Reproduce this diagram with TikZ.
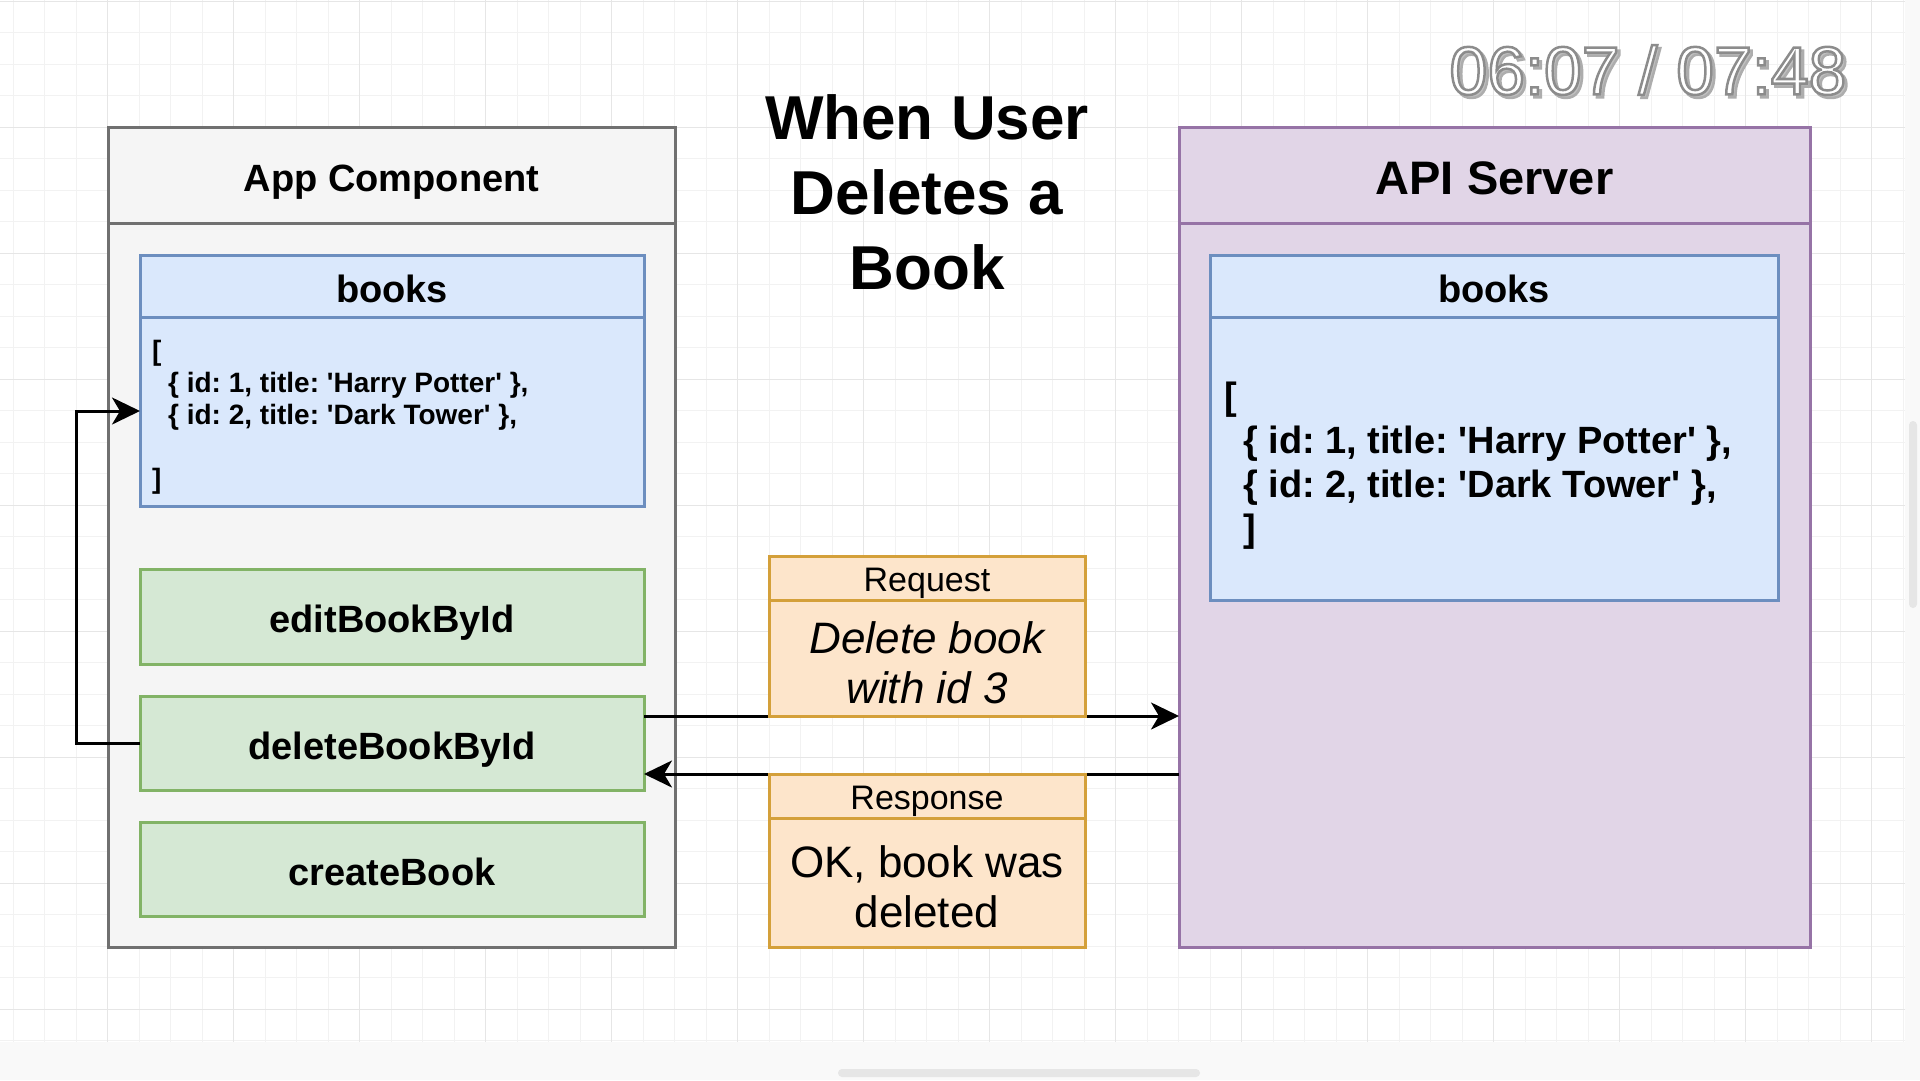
\documentclass[tikz,border=0pt]{standalone}
\usepackage{fontspec}
\setmainfont{Liberation Sans}
\usetikzlibrary{positioning,arrows.meta}
\frenchspacing

\definecolor{appfill}{HTML}{F5F5F5}
\definecolor{appline}{HTML}{707070}
\definecolor{bluefill}{HTML}{DAE8FC}
\definecolor{blueline}{HTML}{6C8EBF}
\definecolor{greenfill}{HTML}{D5E8D4}
\definecolor{greenline}{HTML}{82B366}
\definecolor{orangefill}{HTML}{FDE5CB}
\definecolor{orangeline}{HTML}{D4A03A}
\definecolor{purplefill}{HTML}{E1D5E7}
\definecolor{purpleline}{HTML}{9673A6}
\definecolor{gridminor}{HTML}{F2F2F2}
\definecolor{gridmajor}{HTML}{E6E6E6}
\definecolor{stampshadow}{HTML}{C0C0C0}

\newcommand{\qt}{\textquotesingle}
% outlined text for the time stamp (fill = text colour, stroke gray #1)
\newcommand{\outlined}[2]{\special{pdf:literal direct 2 Tr 2.5 w #1 G}#2\special{pdf:literal direct 0 Tr 1 w}}

\tikzset{
    panel/.style={draw=#1line, fill=#1fill, line width=3pt, outer sep=0pt, inner sep=0pt},
    heading/.style={font=\fontsize{38}{44}\selectfont\bfseries, text height=36pt, text depth=3.4pt},
    label/.style={font=\fontsize{34}{40}\selectfont, text height=30.6pt, text depth=2.7pt},
    code/.style={align=left, inner sep=0pt, font=\fontsize{28}{32}\selectfont\bfseries},
    bigcode/.style={align=left, inner sep=0pt, font=\fontsize{38}{44}\selectfont\bfseries},
    link/.style={line width=3pt, -{Stealth[length=28pt,width=27pt,inset=8pt]}},
    stamp/.style={inner sep=0pt, font=\fontsize{68}{70}\selectfont}
}

\begin{document}
\begin{tikzpicture}[x=1pt,y=-1pt]
    \useasboundingbox (0,0) rectangle (1920,1080);
    % Background grid of the editor.
        \fill[white] (0,0) rectangle (1920,1080);
        \foreach \i in {0,...,60}
            \draw[gridminor, line width=1pt] (13+31.5*\i,0) -- (13+31.5*\i,1042);
        \foreach \k in {0,...,33}
            \draw[gridminor, line width=1pt] (0,1+31.5*\k) -- (1905,1+31.5*\k);
        \foreach \i in {3,7,...,59}
            \draw[gridmajor, line width=1pt] (13+31.5*\i,0) -- (13+31.5*\i,1042);
        \foreach \k in {0,4,...,32}
            \draw[gridmajor, line width=1pt] (0,1+31.5*\k) -- (1905,1+31.5*\k);
        \fill[gridminor!50] (1905,0) rectangle (1920,1080);
        \fill[gridminor!50] (0,1042) rectangle (1905,1080);
        \fill[gridmajor, rounded corners=4pt] (1909,421) rectangle (1917,608);
        \fill[gridmajor, rounded corners=4pt] (838,1069) rectangle (1200,1077);

    % Title in the middle.
        \node[align=center, font=\fontsize{62}{75}\selectfont\bfseries] (title) at (927,192) {When User\\Deletes a\\Book};

    % Left side: the App component.
        \node[panel=app, minimum width=567, minimum height=96, heading] (apphead) at (391.5,175) {App Component};
        \node[panel=app, minimum width=567, minimum height=724, below=0pt of apphead] (app) {};
        \node[panel=blue, minimum width=504, minimum height=62, heading] (lbookshead) at (392,286) {books};
        \node[panel=blue, minimum width=504, minimum height=189, below=0pt of lbookshead] (lbooks) {};
        \node[code, anchor=west] (lcode) at (152,417.5) {[\\
            \hspace*{16pt}\{ id: 1, title: \qt Harry Potter\qt\ \},\\
            \hspace*{16pt}\{ id: 2, title: \qt Dark Tower\qt\ \},\\[32pt]
            ]};
        \node[panel=green, minimum width=504, minimum height=95, heading] (editbtn) at (392,616.5) {editBookById};
        \node[panel=green, minimum width=504, minimum height=94, heading, below=32pt of editbtn] (deletebtn) {deleteBookById};
        \node[panel=green, minimum width=504, minimum height=94, heading, below=32pt of deletebtn] (createbtn) {createBook};

    % Right side: the API server.
        \node[panel=purple, minimum width=631, minimum height=96, font=\fontsize{47}{54}\selectfont\bfseries, text height=47.6pt, text depth=8.5pt] (apihead) at (1494.5,175) {API Server};
        \node[panel=purple, minimum width=631, minimum height=724, below=0pt of apihead] (api) {};
        \node[panel=blue, minimum width=568, minimum height=62, heading] (rbookshead) at (1494,286) {books};
        \node[panel=blue, minimum width=568, minimum height=283, below=0pt of rbookshead] (rbooks) {};
        \node[bigcode, anchor=west] (rcode) at (1224,466) {[\\
            \hspace*{19pt}\{ id: 1, title: \qt Harry Potter\qt\ \},\\
            \hspace*{19pt}\{ id: 2, title: \qt Dark Tower\qt\ \},\\
            \hspace*{19pt}]};

    % Connectors between the two sides.
        \coordinate (reqline) at (927,716);
        \coordinate (respline) at (927,774);
        \coordinate (loopcorner) at (76,411);
        \draw[link] (deletebtn.east |- reqline) -- (api.west |- reqline);
        \draw[link] (api.west |- respline) -- (deletebtn.east |- respline);
        \draw[link] (deletebtn.west) -| (loopcorner) -- (loopcorner -| lbooks.west);

    % Request and response boxes sit on the lines.
        \node[panel=orange, minimum width=316, minimum height=116, anchor=south] (reqbody) at (reqline) {};
        \node[align=center, font=\fontsize{44}{50}\selectfont\itshape] (reqtext) at ([yshift=-5pt]reqbody.center) {Delete book\\with id 3};
        \node[panel=orange, minimum width=316, minimum height=44, above=0pt of reqbody, label] (reqhead) {Request};
        \node[panel=orange, minimum width=316, minimum height=44, anchor=north, label] (resphead) at (respline) {Response};
        \node[panel=orange, minimum width=316, minimum height=129, below=0pt of resphead] (respbody) {};
        \node[align=center, font=\fontsize{44}{50}\selectfont] (resptext) at ([yshift=-4pt]respbody.center) {OK, book was\\deleted};

    % The video time stamp.
        \node[stamp, text=stampshadow] (stampshade) at (1651,73) {\outlined{0.68}{06:07 / 07:48}};
        \node[stamp, text=white] (stamp) at (1648,70) {\outlined{0.55}{06:07 / 07:48}};
\end{tikzpicture}
\end{document}
